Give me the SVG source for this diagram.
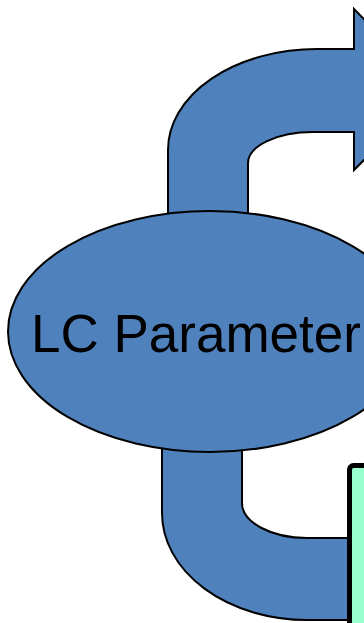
<svg xmlns="http://www.w3.org/2000/svg" width="364" height="623" viewBox="0 0 364 623">
<style>
.arrow{fill:#4F81BD;stroke:#000;stroke-width:2;stroke-linejoin:miter}
.node{fill:#4F81BD;stroke:#000;stroke-width:2}
.box{fill:#99FFCC;stroke:#000;stroke-width:5}
.label{font-family:"Liberation Sans",Arial,sans-serif;font-size:53px;fill:#000}
</style>
<rect width="364" height="623" fill="#fff"/>
<g id="connectors">
<path class="arrow" d="M168,240 L168,150 A149,101 0 0 1 317,49 L354,49 L354,9 L434,90 L354,170 L354,132 L313,132 A65,31 0 0 0 248,163 L248,240 Z"/>
<path class="arrow" d="M162,420 L162,513 A145,107 0 0 0 307,620 L380,620 L380,538 L307,538 A65,35 0 0 1 242,503 L242,420 Z"/>
</g>
<g id="lc-parameter">
<ellipse class="node" cx="210" cy="331.5" rx="202" ry="120.5"/>
<text class="label" x="31" y="352">LC Parameter</text>
</g>
<g id="box">
<rect class="box" x="349.5" y="465.5" width="60" height="200" rx="4"/>
</g>
</svg>
